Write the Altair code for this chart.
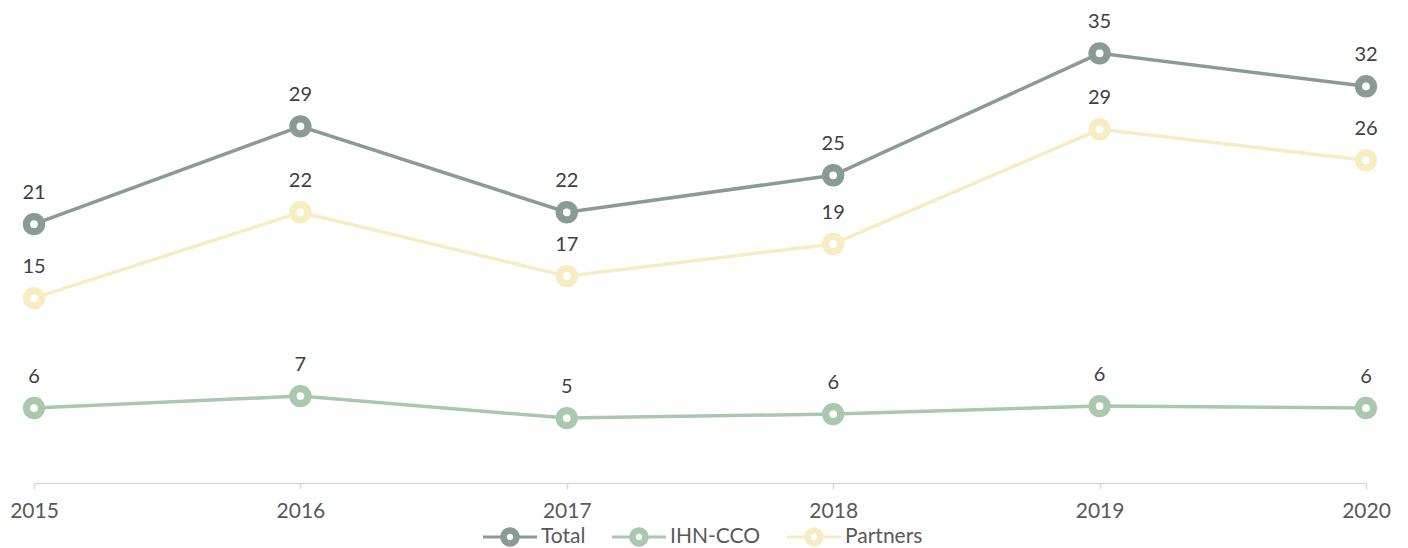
import altair as alt
import pandas as pd

years = ["2015", "2016", "2017", "2018", "2019", "2020"]
total = [21.06, 29.02, 22.03, 25.04, 34.96, 32.28]
ihn_cco = [6.10, 7.07, 5.28, 5.61, 6.26, 6.10]
partners = [15.04, 22.03, 16.83, 19.45, 28.78, 26.26]
series = ["Total", "IHN-CCO", "Partners"]
colors = ["#8a9b96", "#a9c8ae", "#f6edc2"]

rows = []
for name, vals in zip(series, [total, ihn_cco, partners]):
    for yr, v in zip(years, vals):
        rows.append({"year": yr, "series": name, "value": v})
df = pd.DataFrame(rows)

FONT = "Lato"

legend_path = (
    "M -1 -0.06 L -0.3 -0.06 L -0.3 0.06 L -1 0.06 Z "
    "M 0.3 -0.06 L 1 -0.06 L 1 0.06 L 0.3 0.06 Z "
    "M 0.36 0 A 0.36 0.36 0 1 1 -0.36 0 A 0.36 0.36 0 1 1 0.36 0 Z "
    "M 0.12 0 A 0.12 0.12 0 1 0 -0.12 0 A 0.12 0.12 0 1 0 0.12 0 Z"
)

x = alt.X(
    "year:O",
    scale=alt.Scale(type="point", padding=0),
    axis=alt.Axis(
        title=None, labelAngle=0, labelFont=FONT, labelFontSize=21,
        labelColor="#595959", domainColor="#d9d9d9", domainWidth=1.5,
        tickColor="#d9d9d9", tickWidth=1.5, tickSize=6, labelPadding=11,
        grid=False,
    ),
)
y = alt.Y("value:Q", scale=alt.Scale(domain=[0, 38], nice=False), axis=None)
legend = alt.Legend(
    title=None, orient="none", direction="horizontal",
    legendX=449, legendY=494,
    symbolType=legend_path, symbolSize=2916, symbolStrokeWidth=0,
    symbolOpacity=1,
    labelFont=FONT, labelFontSize=21, labelColor="#595959",
    labelOffset=4, columnPadding=26,
)
color = alt.Color(
    "series:N",
    scale=alt.Scale(domain=series, range=colors),
    sort=series,
    legend=legend,
)

base = alt.Chart(df)

lines = base.mark_line(strokeWidth=3.5).encode(
    x=x, y=y, color=color, detail="series:N"
)
outer = base.mark_circle(size=500, opacity=1).encode(x=x, y=y, color=color)
inner = base.mark_circle(size=60, opacity=1, color="white").encode(x=x, y=y)
labels = base.mark_text(
    dy=-31, fontSize=20, font=FONT, color="#404040"
).encode(x=x, y=y, text=alt.Text("value:Q", format=".0f"))

chart = (
    alt.layer(lines, outer, inner, labels)
    .properties(
        width=1332,
        height=467,
        padding={"left": 26, "top": 8, "right": 34, "bottom": 64},
        autosize=alt.AutoSizeParams(type="none"),
    )
    .configure_view(stroke=None)
)

chart.save("out.html", embed_options={"renderer": "svg", "actions": False})
